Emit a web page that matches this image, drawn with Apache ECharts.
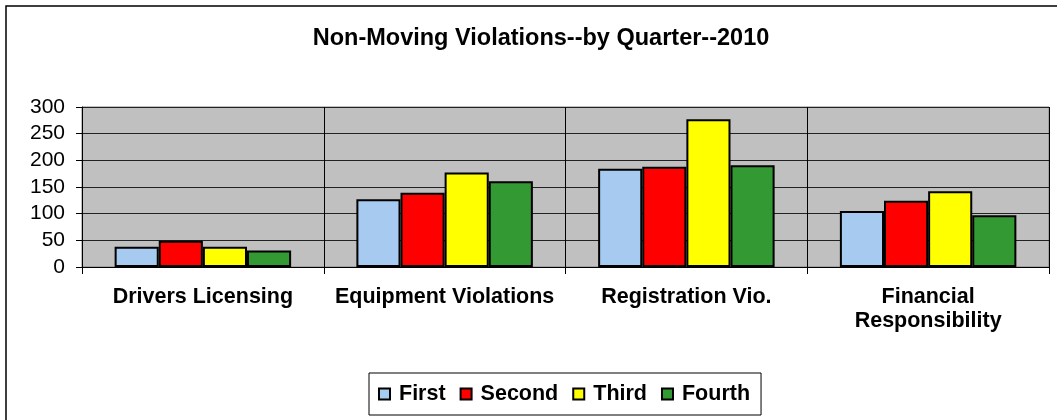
<!DOCTYPE html>
<html>
<head>
<meta charset="utf-8">
<script src="https://cdn.jsdelivr.net/npm/echarts@6/dist/echarts.min.js"></script>
<style>
html,body{margin:0;padding:0;background:#fff;}
#chart{width:1057px;height:420px;}
</style>
</head>
<body>
<div id="chart"></div>
<script>
const categories = ['Drivers Licensing', 'Equipment Violations', 'Registration Vio.', 'Financial Responsibility'];
const seriesNames = ['First', 'Second', 'Third', 'Fourth'];
const firstValues = [38, 127, 184, 105];
const secondValues = [49, 139, 188, 124];
const thirdValues = [38, 177, 277, 142];
const fourthValues = [31, 161, 191, 97];
const yTicks = [0, 50, 100, 150, 200, 250, 300];
const titleText = 'Non-Moving Violations--by Quarter--2010';

const colors = ['#A6CAF0', '#FF0000', '#FFFF00', '#339933'];
const allValues = [firstValues, secondValues, thirdValues, fourthValues];
const FONT = '"Liberation Sans", Arial, sans-serif';

const chart = echarts.init(document.getElementById('chart'), null, {renderer: 'canvas'});
chart.setOption({
  animation: false,
  backgroundColor: '#fff',
  title: {
    text: titleText,
    left: 536,
    textAlign: 'center',
    top: 22,
    textStyle: {fontFamily: FONT, fontWeight: 'bold', fontSize: 23.5, color: '#000'}
  },
  graphic: [{
    type: 'rect',
    shape: {x: 6, y: 6, width: 1200, height: 600},
    style: {fill: 'none', stroke: '#000', lineWidth: 1.5},
    silent: true, z: 100
  }],
  legend: {
    data: seriesNames,
    left: 369,
    top: 373,
    itemWidth: 11,
    itemHeight: 11,
    itemGap: 14,
    padding: [10, 11, 10, 9],
    borderColor: '#000',
    borderWidth: 1,
    icon: 'rect',
    textStyle: {fontFamily: FONT, fontWeight: 'bold', fontSize: 21.5, color: '#000', padding: [0, 0, 0, 4]}
  },
  grid: {
    left: 82, right: 8, top: 107, bottom: 153,
    show: true,
    backgroundColor: '#C0C0C0',
    borderColor: '#808080',
    borderWidth: 1
  },
  xAxis: {
    type: 'category',
    data: categories,
    axisLine: {lineStyle: {color: '#000', width: 1}},
    axisTick: {show: true, length: 7, lineStyle: {color: '#000'}},
    splitLine: {show: true, lineStyle: {color: '#000', width: 1}},
    axisLabel: {
      interval: 0,
      margin: 18,
      lineHeight: 24,
      fontFamily: FONT, fontWeight: 'bold', fontSize: 21.5, color: '#000',
      formatter: function (v) { return v === 'Financial Responsibility' ? 'Financial\nResponsibility' : v; }
    }
  },
  yAxis: {
    type: 'value',
    min: yTicks[0],
    max: yTicks[yTicks.length - 1],
    interval: 50,
    axisLine: {show: true, lineStyle: {color: '#000', width: 1}},
    axisTick: {show: true, length: 6, lineStyle: {color: '#000'}},
    splitLine: {show: true, lineStyle: {color: '#222', width: 1}},
    axisLabel: {margin: 17, fontFamily: FONT, fontSize: 21, color: '#000'}
  },
  series: seriesNames.map(function (name, i) {
    return {
      name: name,
      type: 'bar',
      data: allValues[i],
      barGap: '0%',
      barCategoryGap: '27%',
      itemStyle: {color: colors[i], borderColor: '#000', borderWidth: 2}
    };
  })
});
</script>
</body>
</html>
